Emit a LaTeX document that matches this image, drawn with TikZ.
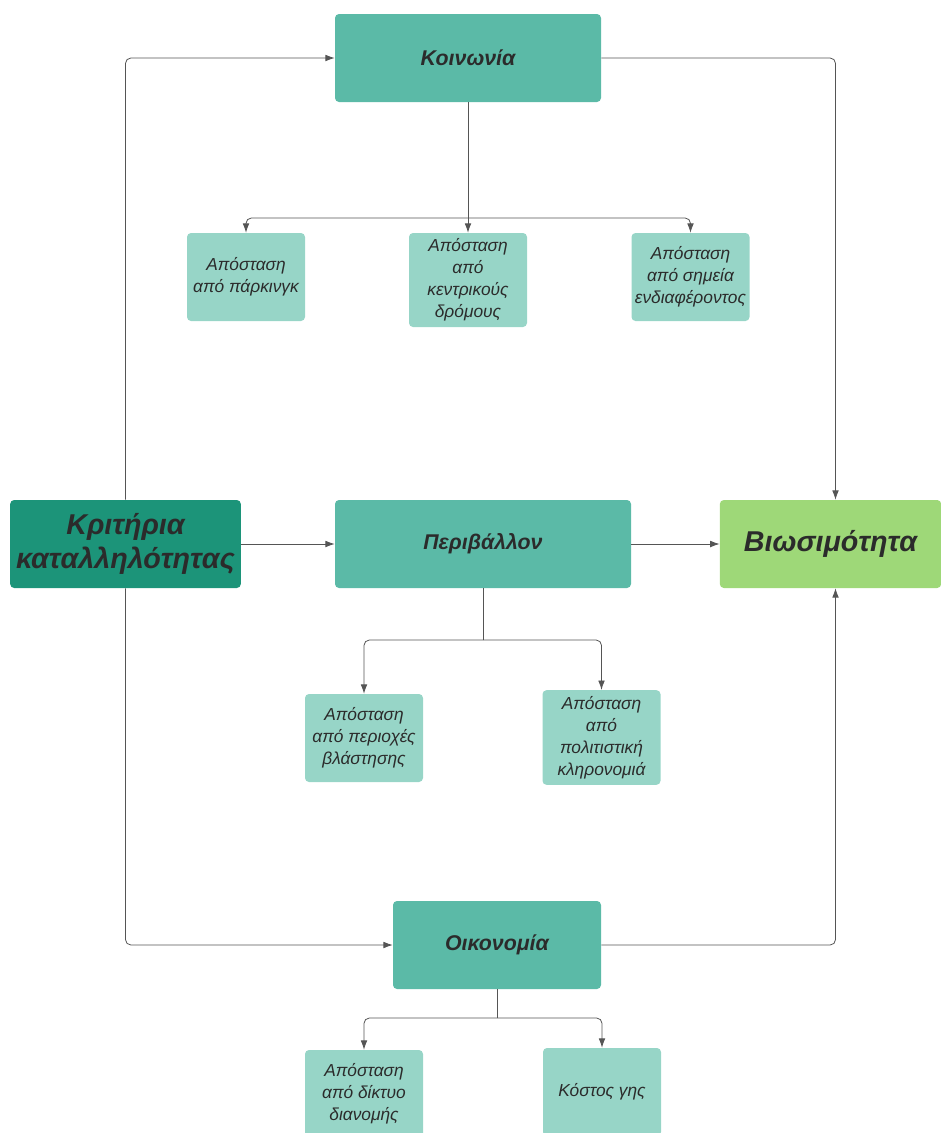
\documentclass[tikz,border=0pt]{standalone}
\usepackage{fontspec}
\setmainfont{Liberation Sans}
\usetikzlibrary{arrows.meta}

\definecolor{teal1}{HTML}{5BBAA7}
\definecolor{teal2}{HTML}{97D5C7}
\definecolor{teal3}{HTML}{1C9479}
\definecolor{lime1}{HTML}{9ED878}
\definecolor{ink}{HTML}{2B2B2B}
\definecolor{wire}{HTML}{555555}

\tikzset{
  mainbox/.style={rounded corners=3pt, fill=teal1, minimum height=66pt,
    text=ink, font=\fontsize{16}{19}\selectfont\bfseries\itshape, align=center},
  bigbox/.style={mainbox, inner xsep=1pt, font=\fontsize{21.5}{26}\selectfont\bfseries\itshape},
  leafbox/.style={rounded corners=3pt, fill=teal2, minimum width=88.5pt, minimum height=66pt,
    inner xsep=1pt, text=ink, font=\fontsize{13}{16.5}\selectfont\itshape, align=center},
  wireline/.style={draw=wire, line width=0.6pt, rounded corners=4pt},
  arrow/.style={wireline, -{Latex[length=7pt,width=5pt]}}
}

\begin{document}
\begin{tikzpicture}[x=0.75pt, y=-0.75pt]
    \useasboundingbox (0,0) rectangle (941,1133);

    % Nodes
    \node [bigbox, fill=teal3, minimum width=173pt] (crit) at (125.5,544) {Κριτήρια\\καταλληλότητας};
    \node [bigbox, fill=lime1, minimum width=166pt] (bio) at (830.5,544) {Βιωσιμότητα};
    \node [mainbox, minimum width=199.5pt] (soc) at (468,58) {Κοινωνία};
    \node [mainbox, minimum width=222pt] (env) at (483,544) {Περιβάλλον};
    \node [mainbox, minimum width=156pt] (eco) at (497,945) {Οικονομία};

    \node [leafbox] (park) at (246,277) {Απόσταση\\από πάρκινγκ};
    \node [leafbox, minimum height=70.5pt] (road) at (468,280) {Απόσταση\\από\\κεντρικούς\\δρόμους};
    \node [leafbox] (poi) at (690.5,277) {Απόσταση\\από σημεία\\ενδιαφέροντος};
    \node [leafbox] (green) at (364,738) {Απόσταση\\από περιοχές\\βλάστησης};
    \node [leafbox, minimum height=71pt] (herit) at (601.5,737.5) {Απόσταση\\από\\πολιτιστική\\κληρονομιά};
    \node [leafbox] (grid) at (364,1094) {Απόσταση\\από δίκτυο\\διανομής};
    \node [leafbox] (land) at (602,1092) {Κόστος γης};

    % Forks
    \coordinate (socfork) at (468,218);
    \coordinate (envfork) at (483,640);
    \coordinate (ecofork) at (497,1018);

    % Connections
    \draw [arrow] (crit.north) |- (soc.west);
    \draw [arrow] (crit.east) -- (env.west);
    \draw [arrow] (crit.south) |- (eco.west);
    \draw [arrow] (soc.east) -| ([xshift=3.75pt]bio.north);
    \draw [arrow] (env.east) -- (bio.west);
    \draw [arrow] (eco.east) -| ([xshift=3.75pt]bio.south);

    \draw [wireline] (soc.south) -- (socfork);
    \draw [arrow] (socfork) -| (park.north);
    \draw [arrow] (socfork) -- (road.north);
    \draw [arrow] (socfork) -| (poi.north);

    \draw [wireline] (env.south) -- (envfork);
    \draw [arrow] (envfork) -| (green.north);
    \draw [arrow] (envfork) -| (herit.north);

    \draw [wireline] (eco.south) -- (ecofork);
    \draw [arrow] (ecofork) -| (grid.north);
    \draw [arrow] (ecofork) -| (land.north);
  \end{tikzpicture}
\end{document}
